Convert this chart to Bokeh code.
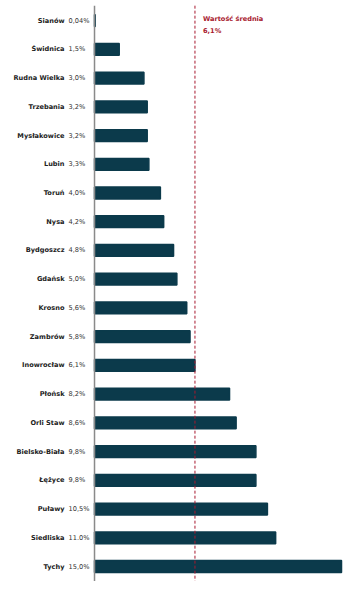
from bokeh.plotting import figure
from bokeh.models import ColumnDataSource, Range1d
from bokeh.core.properties import value
from bokeh.embed import file_html
from bokeh.resources import INLINE

cities = ["Sianów", "Świdnica", "Rudna Wielka", "Trzebania", "Mysłakowice", "Lubin",
          "Toruń", "Nysa", "Bydgoszcz", "Gdańsk", "Krosno", "Zambrów", "Inowrocław",
          "Płońsk", "Orli Staw", "Bielsko-Biała", "Łężyce", "Puławy", "Siedliska", "Tychy"]
values = [0.04, 1.5, 3.0, 3.2, 3.2, 3.3, 4.0, 4.2, 4.8, 5.0, 5.6, 5.8, 6.1,
          8.2, 8.6, 9.8, 9.8, 10.5, 11.0, 15.0]
value_labels = ["0,04%", "1,5%", "3,0%", "3,2%", "3,2%", "3,3%", "4,0%", "4,2%", "4,8%",
                "5,0%", "5,6%", "5,8%", "6,1%", "8,2%", "8,6%", "9,8%", "9,8%", "10,5%",
                "11.0%", "15,0%"]
mean_value = 6.1
mean_label = ["Wartość średnia", "6,1%"]

BAR = "#0b3a4b"
RED = "#a8192e"
FONT = "DejaVu Sans"

src = ColumnDataSource(dict(
    y=list(range(len(cities))),
    v=values,
    name=cities,
    vl=value_labels,
    zero=[0] * len(cities),
))

p = figure(width=355, height=589, output_backend="svg", toolbar_location=None,
           x_range=Range1d(-5.71, 15.85), y_range=Range1d(19.80, -0.70),
           min_border=0, min_border_left=0, min_border_right=0,
           min_border_top=0, min_border_bottom=0)
p.xaxis.visible = False
p.yaxis.visible = False
p.grid.visible = False
p.outline_line_color = None
p.background_fill_color = "white"
p.border_fill_color = "white"

p.hbar(y="y", left="zero", right="v", height=0.41, source=src,
       fill_color=BAR, line_color=BAR, line_width=1.5)

# baseline axis
p.segment(x0=[0], y0=[-0.52], x1=[0], y1=[19.5], line_color="#8a8a8a", line_width=1.5)
# mean line
p.segment(x0=[mean_value], y0=[-0.52], x1=[mean_value], y1=[19.5],
          line_color=RED, line_width=1, line_dash="3 2")

p.text(x="zero", y="y", text="name", source=src, x_offset=-30,
       text_align="right", text_baseline="middle", text_font=value(FONT),
       text_font_size="6.6px", text_font_style="bold", text_color="#222222")
p.text(x="zero", y="y", text="vl", source=src, x_offset=-26,
       text_align="left", text_baseline="middle", text_font=value(FONT),
       text_font_size="6.6px", text_color="#333333")

p.text(x=[mean_value, mean_value], y=[-0.07, 0.35], text=mean_label, x_offset=8,
       text_align="left", text_baseline="middle", text_font=value(FONT),
       text_font_size="6.6px", text_font_style="bold", text_color=RED)

open("out.html", "w").write(file_html(p, INLINE))
